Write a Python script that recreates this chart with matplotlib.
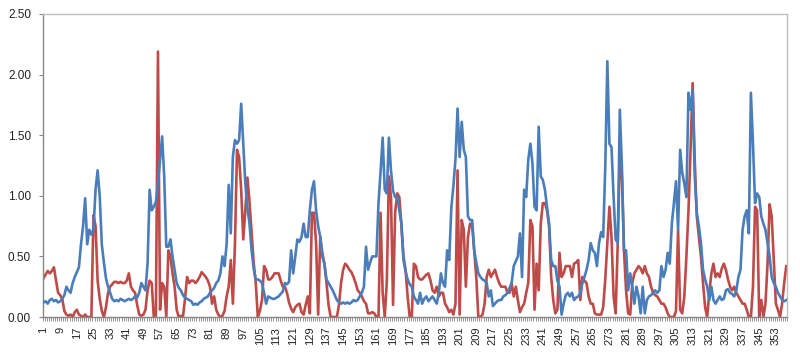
import numpy as np
import matplotlib
matplotlib.use("Agg")
import matplotlib.pyplot as plt

# blue series (358 days)
blue = [
    0.12, 0.13, 0.11, 0.14, 0.15, 0.13, 0.14, 0.12, 0.13, 0.15,
    0.18, 0.25, 0.22, 0.20, 0.28, 0.33, 0.37, 0.41, 0.60, 0.75,
    0.98, 0.60, 0.72, 0.68, 0.72, 1.05, 1.21, 1.00, 0.60, 0.45,
    0.32, 0.25, 0.20, 0.15, 0.13, 0.14, 0.13, 0.15, 0.14, 0.13,
    0.14, 0.15, 0.14, 0.15, 0.17, 0.16, 0.20, 0.28, 0.25, 0.22,
    0.44, 1.05, 0.88, 0.91, 0.95, 1.10, 1.30, 1.49, 1.16, 0.58,
    0.58, 0.64, 0.50, 0.39, 0.28, 0.24, 0.22, 0.18, 0.16, 0.15,
    0.14, 0.13, 0.10, 0.11, 0.10, 0.12, 0.13, 0.15, 0.16, 0.17,
    0.20, 0.22, 0.24, 0.28, 0.30, 0.36, 0.50, 0.42, 0.60, 1.09,
    0.69, 1.32, 1.46, 1.43, 1.46, 1.76, 1.43, 1.10, 0.90, 0.77,
    0.55, 0.40, 0.31, 0.31, 0.30, 0.28, 0.20, 0.11, 0.17, 0.16,
    0.15, 0.15, 0.16, 0.17, 0.19, 0.21, 0.28, 0.27, 0.29, 0.55,
    0.36, 0.50, 0.64, 0.62, 0.66, 0.77, 0.66, 0.66, 0.88, 1.05,
    1.12, 0.88, 0.75, 0.66, 0.50, 0.44, 0.31, 0.28, 0.25, 0.22,
    0.18, 0.14, 0.12, 0.11, 0.12, 0.11, 0.12, 0.11, 0.12, 0.14,
    0.13, 0.14, 0.17, 0.20, 0.25, 0.58, 0.39, 0.45, 0.50, 0.50,
    0.50, 0.94, 1.20, 1.48, 1.05, 1.02, 1.48, 1.21, 1.04, 0.99,
    0.99, 0.88, 0.77, 0.47, 0.38, 0.31, 0.27, 0.25, 0.17, 0.14,
    0.11, 0.20, 0.11, 0.15, 0.17, 0.13, 0.15, 0.17, 0.14, 0.11,
    0.20, 0.36, 0.28, 0.25, 0.55, 0.47, 0.90, 1.08, 1.30, 1.72,
    1.32, 1.61, 1.38, 1.32, 0.83, 0.80, 0.80, 0.55, 0.45, 0.36,
    0.33, 0.31, 0.30, 0.28, 0.17, 0.22, 0.09, 0.11, 0.13, 0.14,
    0.14, 0.17, 0.18, 0.20, 0.24, 0.28, 0.42, 0.46, 0.50, 0.69,
    0.33, 1.05, 0.99, 1.30, 1.43, 1.27, 0.91, 0.88, 1.57, 1.16,
    1.13, 1.05, 0.91, 0.77, 0.47, 0.42, 0.42, 0.30, 0.25, 0.02,
    0.11, 0.18, 0.20, 0.17, 0.20, 0.14, 0.16, 0.17, 0.20, 0.28,
    0.33, 0.39, 0.47, 0.61, 0.55, 0.53, 0.42, 0.61, 0.70, 0.66,
    1.24, 2.11, 1.43, 1.40, 0.99, 0.64, 0.61, 1.71, 1.24, 0.55,
    0.55, 0.22, 0.36, 0.25, 0.11, 0.25, 0.17, 0.03, 0.25, 0.03,
    0.14, 0.17, 0.18, 0.20, 0.22, 0.20, 0.22, 0.42, 0.33, 0.39,
    0.53, 0.44, 0.77, 0.94, 1.12, 0.72, 1.38, 1.19, 1.10, 0.99,
    1.85, 1.71, 1.87, 1.16, 0.86, 0.75, 0.61, 0.39, 0.31, 0.25,
    0.14, 0.25, 0.14, 0.11, 0.14, 0.17, 0.14, 0.15, 0.22, 0.23,
    0.20, 0.19, 0.17, 0.22, 0.33, 0.39, 0.72, 0.83, 0.88, 0.69,
    1.85, 1.43, 0.94, 1.02, 0.99, 0.83, 0.77, 0.72, 0.61, 0.50,
    0.33, 0.28, 0.25, 0.20, 0.17, 0.14, 0.13, 0.14,
]

# red series
red = [
    0.32, 0.35, 0.38, 0.36, 0.38, 0.41, 0.30, 0.20, 0.18, 0.15,
    0.05, 0.02, 0.01, 0.02, 0.00, 0.04, 0.06, 0.02, 0.01, 0.00,
    0.02, 0.00, 0.00, 0.00, 0.84, 0.75, 0.30, 0.15, 0.05, 0.00,
    0.08, 0.20, 0.25, 0.27, 0.29, 0.29, 0.28, 0.29, 0.28, 0.28,
    0.30, 0.36, 0.25, 0.22, 0.20, 0.10, 0.02, 0.01, 0.02, 0.06,
    0.22, 0.30, 0.28, 0.00, 0.01, 2.19, 0.06, 0.28, 0.25, 0.00,
    0.55, 0.50, 0.36, 0.25, 0.06, 0.00, 0.01, 0.00, 0.15, 0.33,
    0.28, 0.30, 0.30, 0.28, 0.30, 0.33, 0.37, 0.35, 0.33, 0.30,
    0.25, 0.11, 0.17, 0.06, 0.02, 0.00, 0.01, 0.05, 0.17, 0.25,
    0.47, 0.11, 0.60, 1.38, 1.32, 1.05, 0.64, 0.88, 1.15, 0.95,
    0.70, 0.45, 0.28, 0.00, 0.05, 0.14, 0.42, 0.39, 0.31, 0.31,
    0.33, 0.36, 0.36, 0.36, 0.30, 0.25, 0.25, 0.20, 0.12, 0.07,
    0.04, 0.08, 0.10, 0.11, 0.04, 0.02, 0.10, 0.17, 0.03, 0.86,
    0.86, 0.61, 0.02, 0.66, 0.53, 0.44, 0.28, 0.10, 0.00, 0.00,
    0.00, 0.00, 0.10, 0.28, 0.39, 0.44, 0.42, 0.39, 0.37, 0.33,
    0.28, 0.22, 0.20, 0.17, 0.13, 0.11, 0.03, 0.03, 0.04, 0.03,
    0.00, 0.00, 0.86, 0.20, 0.00, 0.29, 1.16, 0.99, 0.10, 0.86,
    1.02, 0.99, 0.77, 0.50, 0.39, 0.17, 0.00, 0.00, 0.44, 0.42,
    0.33, 0.31, 0.31, 0.33, 0.35, 0.36, 0.30, 0.22, 0.20, 0.25,
    0.17, 0.20, 0.20, 0.11, 0.08, 0.04, 0.06, 0.02, 0.11, 1.21,
    0.02, 0.80, 0.72, 0.25, 0.66, 0.77, 0.77, 0.55, 0.33, 0.00,
    0.00, 0.02, 0.11, 0.33, 0.39, 0.33, 0.36, 0.39, 0.33, 0.28,
    0.25, 0.25, 0.25, 0.20, 0.20, 0.28, 0.17, 0.25, 0.14, 0.04,
    0.08, 0.11, 0.20, 0.28, 0.80, 0.75, 0.06, 0.44, 0.22, 0.77,
    0.94, 0.94, 0.88, 0.75, 0.33, 0.14, 0.03, 0.06, 0.53, 0.33,
    0.36, 0.42, 0.42, 0.42, 0.33, 0.44, 0.45, 0.47, 0.14, 0.33,
    0.30, 0.28, 0.17, 0.11, 0.11, 0.03, 0.02, 0.02, 0.02, 0.08,
    0.31, 0.61, 0.91, 0.66, 0.17, 0.03, 0.61, 1.35, 1.16, 0.55,
    0.22, 0.03, 0.02, 0.28, 0.36, 0.39, 0.42, 0.40, 0.36, 0.42,
    0.36, 0.33, 0.25, 0.20, 0.18, 0.17, 0.14, 0.11, 0.11, 0.08,
    0.03, 0.00, 0.00, 0.00, 0.05, 0.72, 0.06, 0.03, 0.17, 0.50,
    0.88, 1.38, 1.93, 1.30, 0.83, 0.66, 0.50, 0.28, 0.08, 0.00,
    0.20, 0.36, 0.44, 0.33, 0.36, 0.33, 0.40, 0.44, 0.39, 0.31,
    0.25, 0.22, 0.25, 0.20, 0.17, 0.14, 0.11, 0.11, 0.06, 0.00,
    0.00, 0.25, 0.91, 0.88, 0.00, 0.14, 0.00, 0.11, 0.44, 0.93,
    0.83, 0.47, 0.11, 0.06, 0.00, 0.11, 0.28, 0.42,
]

y_ticks = [0.0, 0.5, 1.0, 1.5, 2.0, 2.5]

n = len(blue)
days = np.arange(1, n + 1)

plt.rcParams['font.family'] = ['Liberation Sans', 'DejaVu Sans']

fig = plt.figure(figsize=(8, 3.56), dpi=100)
ax = fig.add_axes([42.5 / 800, 1 - 317 / 356, (787.3 - 42.5) / 800, (317 - 14) / 356])

ax.plot(days, blue, color='#4A7EBB', lw=1.9, zorder=3)
ax.plot(days, red, color='#BE4B48', lw=1.9, zorder=2)

ax.set_xlim(0.5, n + 0.5)
ax.set_ylim(0, 2.5)
ax.set_yticks(y_ticks)
ax.set_yticklabels([f"{v:.2f}" for v in y_ticks], fontsize=8.5, color='#222222')

label_days = days[::8]
ax.set_xticks(label_days)
ax.set_xticklabels([str(d) for d in label_days], rotation=90, fontsize=8, color='#222222')
ax.set_xticks(np.arange(0.5, n + 1, 1), minor=True)
ax.tick_params(axis='x', which='major', length=0, pad=7)
ax.tick_params(axis='x', which='minor', length=3, width=0.6, color='#868686')
ax.tick_params(axis='y', which='major', length=3.2, width=0.8, color='#868686', pad=5)

for side in ['left', 'bottom']:
    ax.spines[side].set_color('#868686')
    ax.spines[side].set_linewidth(1)
for side in ['top', 'right']:
    ax.spines[side].set_color('#bfbfbf')
    ax.spines[side].set_linewidth(1)

fig.savefig('out.png', dpi=100)
